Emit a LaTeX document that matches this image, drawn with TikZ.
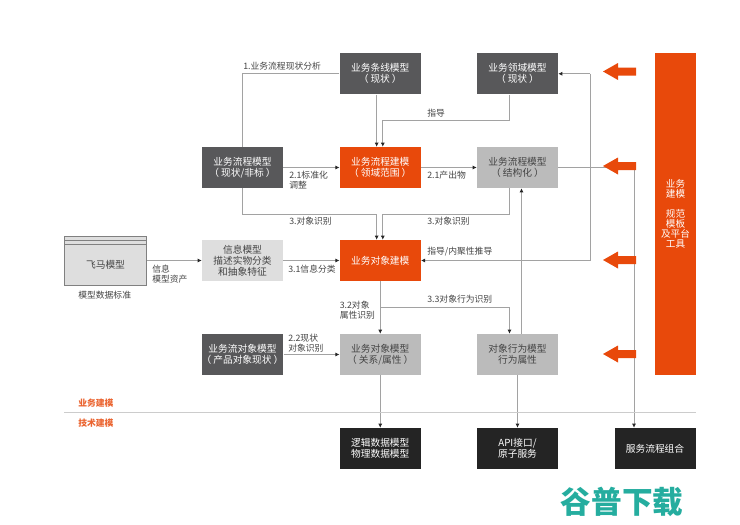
\documentclass[tikz,border=0pt]{standalone}
\usepackage{fontspec}
\setmainfont{Noto Sans CJK SC}
\usetikzlibrary{arrows.meta}
\definecolor{cdark}{HTML}{58585A}
\definecolor{corange}{HTML}{E8490B}
\definecolor{clight}{HTML}{BBBBBB}
\definecolor{cpale}{HTML}{DEDEDE}
\definecolor{cblack}{HTML}{242424}
\definecolor{cline}{HTML}{A2A2A2}
\definecolor{ctext}{HTML}{444444}
\definecolor{cteal}{HTML}{25AD9F}
\tikzset{
  basebox/.style={minimum width=60.75pt,minimum height=30.75pt,inner sep=0pt,align=center,
    font=\fontsize{7.3}{8.2}\selectfont},
  darkbox/.style={basebox,fill=cdark,text=white},
  orangebox/.style={basebox,fill=corange,text=white},
  lightbox/.style={basebox,fill=clight,text=ctext},
  palebox/.style={basebox,fill=cpale,text=ctext},
  blackbox/.style={basebox,fill=cblack,text=white},
  conn/.style={draw=cline,line width=0.7pt},
  arr/.style={conn,-{Latex[length=3pt,width=3pt,color=black!85]}},
  lab/.style={anchor=west,inner sep=0pt,align=left,text=ctext,
    font=\fontsize{6.6}{7.5}\selectfont},
  catlab/.style={anchor=west,inner sep=0pt,text=corange!85,font=\fontsize{6.6}{7.5}\selectfont\bfseries},
  bigarrow/.style={fill=corange}
}
\begin{document}
\begin{tikzpicture}[x=0.75pt,y=-0.75pt]
\useasboundingbox (0,0) rectangle (740,525);
\fill[white] (0,0) rectangle (740,525);

% boxes
\node[darkbox]   (tiao)  at (380.25,73.75) {业务条线模型\\（\kern1.5pt 现状\kern1.5pt ）};
\node[darkbox]   (ly)    at (517.5,73.75)  {业务领域模型\\（\kern1.5pt 现状\kern1.5pt ）};
\node[darkbox]   (lc)    at (242.5,167.5)  {业务流程模型\\（\kern1.5pt 现状/非标\kern1.5pt ）};
\node[orangebox] (jm)    at (380.25,167.5) {业务流程建模\\（\kern1.5pt 领域范围\kern1.5pt ）};
\node[lightbox]  (jg)    at (517.5,167.5)  {业务流程模型\\（\kern1.5pt 结构化\kern1.5pt ）};
\node[palebox]   (xx)    at (242.5,260.5)  {信息模型\\描述实物分类\\和抽象特征};
\node[orangebox] (dx)    at (380.25,260.5) {业务对象建模};
\node[darkbox]   (lo)    at (242.5,354.5)  {业务流对象模型\\（\kern1.5pt 产品对象现状\kern1.5pt ）};
\node[lightbox]  (gx)    at (380.25,354.5) {业务对象模型\\（\kern1.5pt 关系/属性\kern1.5pt ）};
\node[lightbox]  (xw)    at (517.5,354.5)  {对象行为模型\\行为属性};
\node[blackbox]  (sj)    at (380.25,448.5) {逻辑数据模型\\物理数据模型};
\node[blackbox]  (api)   at (517.5,448.5)  {API接口/\\原子服务};
\node[blackbox]  (zh)    at (655,448.5)    {服务流程组合};

% orange bar
\node[fill=corange,minimum width=30.5pt,minimum height=241.5pt,inner sep=0pt] (bar) at (675.5,214.25) {};
\node[text=white,align=center,inner sep=0pt,font=\fontsize{7.2}{7.5}\selectfont] (bartext) at (675.5,214) {业务\\建模\\[7.5pt]规范\\模板\\及平台\\工具};

% Feima box
\node[fill=cpale,draw=black!50,line width=0.5pt,minimum width=61.5pt,minimum height=37pt,inner sep=0pt] (fm) at (105.5,261) {};
\draw[black!50,line width=0.5pt] (64.3,240.6) -- (146.7,240.6) (64.3,244.3) -- (146.7,244.3);
\node[text=ctext,inner sep=0pt,font=\fontsize{7.3}{8.2}\selectfont] (fmt) at (105.5,265) {飞马模型};

% bend levels
\coordinate (by1) at (0,120);
\coordinate (by2) at (0,214);
\coordinate (by3) at (0,307);
\coordinate (bx1) at (590,0);
\coordinate (bx2) at (634,0);

% connectors
\draw[conn] (tiao.west) -| (lc.north);
\draw[arr] ([xshift=-2.7pt]tiao.south) -- ([xshift=-2.7pt]jm.north);
\draw[arr] ([xshift=-6pt]ly.south) |- ([xshift=1.9pt]jm.north |- by1) -- ([xshift=1.9pt]jm.north);
\draw[arr] (lc.east) -- (jm.west);
\draw[arr] (jm.east) -- (jg.west);
\draw[arr] (lc.south) |- ([xshift=-2.7pt]dx.north |- by2) -- ([xshift=-2.7pt]dx.north);
\draw[arr] ([xshift=-6pt]jg.south) |- ([xshift=1.9pt]dx.north |- by2) -- ([xshift=1.9pt]dx.north);
\draw[arr] (fm.east |- xx.west) -- (xx.west);
\draw[arr] (xx.east) -- (dx.west);
\draw[arr] (lo.east) -- (gx.west);
\draw[arr] (dx.south) -- (gx.north);
\draw[arr] (dx.south |- by3) -- ([xshift=-6pt]xw.north |- by3) -- ([xshift=-6pt]xw.north);
\draw[arr] ([xshift=3pt]xw.north) -- ([xshift=3pt]jg.south);
\draw[arr] (ly.east -| bx1) -- (ly.east);
\draw[arr] (ly.east -| bx1) -- (bx1 |- dx.east) -- (dx.east);
\draw[conn] (jg.east) -- (bx2 |- jg.east);
\draw[arr] (bx2 |- jg.east) -- (bx2 |- zh.north);
\draw[arr] (gx.south) -- (sj.north);
\draw[arr] (xw.south) -- (api.north);

% divider
\draw[black!20,line width=0.6pt] (64,412) -- (696,412);

% big arrows
\foreach \yy in {71.5,166,260,354}{
  \fill[bigarrow] (603,\yy) -- (618,\yy-8.5) -- (618,\yy-4) -- (636,\yy-4) -- (636,\yy+4) -- (618,\yy+4) -- (618,\yy+8.5) -- cycle;
}

% labels
\node[lab] (l1)  at (243,66)    {1.业务流程现状分析};
\node[lab] (l2)  at (427,113)   {指导};
\node[lab] (l3)  at (289,180)   {2.1标准化\\调整};
\node[lab] (l4)  at (427,175)   {2.1产出物};
\node[lab] (l5)  at (289,221)   {3.对象识别};
\node[lab] (l6)  at (427,221)   {3.对象识别};
\node[lab] (l7)  at (288,269)   {3.1信息分类};
\node[lab] (l8)  at (152,274)   {信息\\模型资产};
\node[lab] (l9)  at (78,295)    {模型数据标准};
\node[lab] (l10) at (427,252)   {指导/内聚性推导};
\node[lab] (l11) at (339.5,310) {3.2对象\\属性识别};
\node[lab] (l12) at (427,299)   {3.3对象行为识别};
\node[lab] (l13) at (288,343)   {2.2现状\\对象识别};
\node[catlab] (c1) at (78,403)  {业务建模};
\node[catlab] (c2) at (78,423)  {技术建模};

% watermark
\node[text=cteal,inner sep=0pt,font=\fontsize{23}{25}\selectfont\bfseries] (wm) at (622,502) {谷普下载};
\end{tikzpicture}
\end{document}
